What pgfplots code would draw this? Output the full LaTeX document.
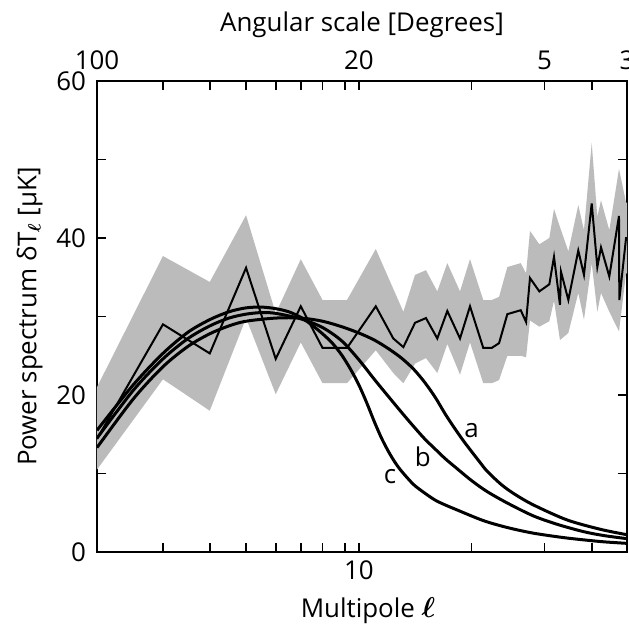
\documentclass[border=0pt]{standalone}
\usepackage{fontspec}
\setmainfont{Open Sans}
\usepackage{amsmath}
\usepackage{pgfplots}
\pgfplotsset{compat=1.18}
\usetikzlibrary{calc}
\definecolor{band}{RGB}{187,187,187}

% measured in pixels of the 629x630 reference: 1px = 0.5bp
\pgfplotsset{
  /pgf/number format/assume math mode=true,
  cmbframe/.style={
    xmin=2, xmax=52, ymin=0, ymax=60,
    scale only axis, width=265bp, height=235.5bp,
    font=\fontsize{13}{15}\selectfont,
    ticklabel style={font=\fontsize{13}{15}\selectfont},
    axis line style={line width=0.85pt},
    tick align=inside,
    major tick length=4.5bp, minor tick length=4.5bp,
    every tick/.append style={black, line width=0.85pt},
  },
  theory/.style={black, line width=1.5bp, smooth, no marks},
}

\begin{document}
\begin{tikzpicture}
\begin{axis}[xmode=log, cmbframe, name=main, at={(0,0)}, anchor=south west,
    xtick={10}, xticklabels={10},
    minor xtick={3,4,5,6,7,8,9.2,20,31.3,42},
    xtick pos=both, xticklabel pos=bottom,
    ytick={0,20,40,60}, minor ytick={10,30,50},
    ytick pos=both, yticklabel pos=left,
    xticklabel style={yshift=-1bp},
    yticklabel style={xshift=-2bp},
    xlabel={Multipole {\fontsize{15}{15}\selectfont$\boldsymbol{\ell}$}},
    xlabel style={xshift=3bp, yshift=-2bp},
    ylabel={Power spectrum δT$_{\boldsymbol{\ell}}$ [μK]},
    ylabel shift=0bp,
  ]
  % 1-sigma band of the measured spectrum
  \addplot[fill=band, draw=none] coordinates {
    (2,21) (3,37.7) (4,34.4) (5,42.9) (6,30.4) (7,37.3) (8,32.1) (9.3,32.1)
    (11.1,38.6) (13.15,30.6) (14.13,35.3) (15.11,35.9) (16.2,33.2)
    (17.23,36.8) (18.63,33.2) (19.81,37.3) (21.49,32.1) (22.64,32.1)
    (23.68,32.5) (24.92,36.3) (27.06,36.8) (27.96,35.5) (28.64,40.9)
    (30.34,39.2) (32.26,40.0) (33.2,43.7) (34.44,41.4) (36.26,38.3)
    (38.55,44.2) (39.92,41.0) (41.86,52.1) (43.33,42.7) (44.32,44.8)
    (46.64,41.0) (49.5,48.8) (51.7,44.5) (52,44.5)
    (52,35.5) (51.7,35.5) (49.5,28.1) (46.64,30.6) (44.32,33.0) (43.33,30.6)
    (41.86,36.8) (39.92,29.6) (38.55,33.0) (36.26,27.9) (34.44,27.0)
    (33.2,32.0) (32.26,29.4) (30.34,28.7) (28.64,29.5) (27.96,24.8)
    (27.06,25.0) (24.92,25.0) (23.68,21.9) (22.64,21.5) (21.49,21.5)
    (19.81,26.7) (18.63,22.6) (17.23,26.5) (16.2,22.8) (15.11,24.7)
    (14.13,24.0) (13.15,21.5) (12.36,22.8) (11.1,25.7) (9.3,21.5) (8,21.5)
    (7,26.7) (6,20.1) (5,29.8) (4,18.0) (3,22.0) (2,10.5)
  };
  % measured spectrum
  \addplot[black, line width=1bp, no marks] coordinates {
    (2,14.4) (3,29.0) (4,25.3) (5,36.2) (6,24.6) (7,31.3) (8,26.0) (9.3,26.0)
    (11.1,31.3) (12.36,27.2) (13.15,26.1) (14.13,29.2) (15.11,29.8)
    (16.2,27.2) (17.23,30.7) (18.63,27.2) (19.81,31.3) (21.49,26.0)
    (22.64,26.0) (23.68,26.6) (24.92,30.3) (27.06,30.8) (27.96,29.3)
    (28.64,34.9) (30.34,33.2) (32.26,34.1) (33.2,37.6) (34.44,31.5)
    (34.66,35.7) (36.26,32.1) (38.55,38.4) (39.92,35.3) (41.86,44.4)
    (43.33,36.3) (44.32,38.8) (46.64,35.1) (49.5,42.8) (49.6,32.1)
    (51.7,40.0) (52,40.0)
  };
  % model curves a, b, c
  \addplot[theory] coordinates {
    (2,13.3) (2.5,19.5) (3,23.6) (3.5,26.2) (4,27.8) (4.5,28.8) (5,29.4)
    (6,29.8) (7,29.8) (8,29.4) (9,28.7) (10,27.9) (11,27.0) (12,25.9)
    (13,24.7) (14,23.3) (15,21.6) (16,19.7) (17,17.6) (18,15.8) (19,14.2)
    (20,12.8) (21,11.5) (22,10.3) (24,8.6) (26,7.4) (29.24,6.0) (35.9,4.1)
    (44.06,2.9) (52,2.2)
  };
  \addplot[theory] coordinates {
    (2,14.5) (2.5,20.6) (3,24.6) (3.5,27.2) (4,28.8) (4.5,29.8) (5,30.3)
    (5.5,30.5) (6,30.4) (7,29.7) (8,28.6) (9,26.9) (10,24.5) (11,22.0)
    (12,19.8) (13,17.8) (14,16.0) (15,14.4) (16,13.1) (17,11.9) (18,10.9)
    (20,9.1) (22,7.7) (25,6.2) (29.24,4.6) (34,3.5) (39.77,2.6) (45,2.1)
    (52,1.7)
  };
  \addplot[theory] coordinates {
    (2,15.5) (2.5,21.3) (3,25.3) (3.5,28.0) (4,29.6) (4.5,30.6) (5,31.1)
    (5.5,31.2) (6,31.0) (6.5,30.6) (7,29.9) (7.5,28.9) (8,27.8) (8.5,26.6)
    (9,25.1) (9.5,23.3) (10,21.3) (10.5,19.0) (11,16.6) (11.5,14.5)
    (12,12.8) (12.5,11.4) (13,10.3) (14,8.6) (15,7.5) (16,6.6) (17,6.0)
    (18,5.5) (21.5,4.0) (25,3.1) (29.24,2.4) (35,1.85) (39.77,1.55)
    (45,1.3) (52,1.1)
  };
  \node at (axis cs:20,15.5) {a};
  \node at (axis cs:14.81,12.1) {b};
  \node at (axis cs:12.11,9.6) {c};
\end{axis}
\begin{axis}[xmode=log, cmbframe, at={(main.south west)}, anchor=south west,
    axis x line*=top, axis y line=none,
    xtick={2,10,31.3,52}, xticklabels={100,20,5,3},
    minor xtick={}, major tick length=0pt,
    xticklabel style={yshift=2bp},
    xlabel={Angular scale [Degrees]},
  ]
\end{axis}
\pgfresetboundingbox
\path[use as bounding box]
  ($(main.south west)+(-48.5bp,-39bp)$) rectangle ($(main.north east)+(1bp,40.5bp)$);
\end{tikzpicture}
\end{document}
